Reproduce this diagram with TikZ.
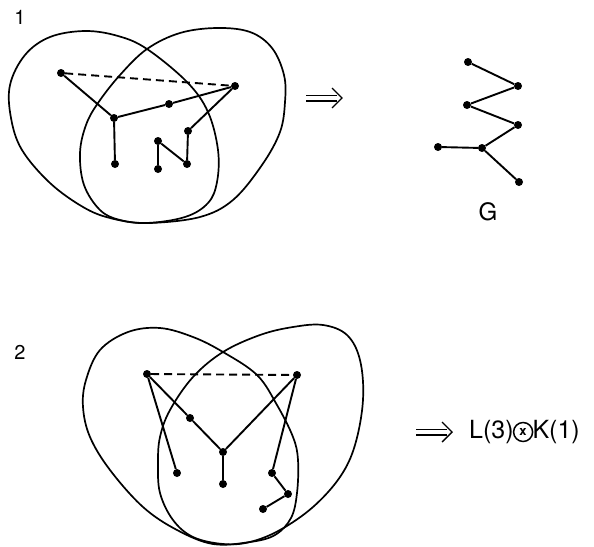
\documentclass[tikz,border=0pt]{standalone}
\usepackage{fontspec}
\newfontfamily\hel{TeX Gyre Heros}
\begin{document}
\begin{tikzpicture}[x=1pt,y=-1pt,
  dot/.style={circle,fill,inner sep=0pt,minimum size=8pt},
  egg/.style={line width=1.7pt},
  edge/.style={line width=1.9pt},
  dashedge/.style={line width=1.9pt,dash pattern=on 8pt off 5pt},
  lbl/.style={inner sep=0pt,font=\hel\fontsize{20}{22}\selectfont},
  implies/.style={line width=1.4pt}]
\useasboundingbox (0,0) rectangle (594,546);

% ---------- figure 1 ----------
\node[lbl] (n1) at (20,17) {1};
\draw[egg] plot[smooth cycle,tension=0.6] coordinates {
 (145,223) (185,217) (208,203) (217,182) (218,150) (208,112) (187,82)
 (147,49) (118,36) (85,31) (50,37) (25,55) (10,85) (11,118) (22,150)
 (50,183) (83,207) (110,218)};
\draw[egg] plot[smooth cycle,tension=0.6] coordinates {
 (150,223) (120,220) (100,210) (84,185) (80,153) (86,125) (98,103)
 (120,75) (147,49) (180,33) (217,28) (250,32) (272,48) (284,75)
 (285,102) (280,132) (262,165) (233,200) (200,217)};

\node[dot] (a) at (61,73) {};
\node[dot] (b) at (235,86) {};
\node[dot] (c) at (114,118) {};
\node[dot] (d) at (169,104) {};
\node[dot] (e) at (115,164) {};
\node[dot] (f) at (188,131) {};
\node[dot] (g) at (187,164) {};
\node[dot] (h) at (158,141) {};
\node[dot] (i) at (158,169) {};
\draw[dashedge] (a) -- (b);
\draw[edge] (a) -- (c) -- (d) -- (b) -- (f) -- (g) -- (h) -- (i);
\draw[edge] (c) -- (e);

% arrow 1
\coordinate (s1) at (306,98);
\coordinate (t1) at (342,98);
\draw[implies] ([yshift=-2.8pt]s1) -- ([xshift=-5pt,yshift=-2.8pt]t1);
\draw[implies] ([yshift=2.8pt]s1) -- ([xshift=-5pt,yshift=2.8pt]t1);
\draw[implies] ([xshift=-10pt,yshift=-10pt]t1) -- (t1) -- ([xshift=-10pt,yshift=10pt]t1);

% graph G
\node[dot] (p1) at (468,62) {};
\node[dot] (p2) at (518,86) {};
\node[dot] (p3) at (467,105) {};
\node[dot] (p4) at (518,125) {};
\node[dot] (p5) at (482,148) {};
\node[dot] (p6) at (438,147) {};
\node[dot] (p7) at (519,182) {};
\draw[edge] (p1) -- (p2) -- (p3) -- (p4) -- (p5) -- (p6);
\draw[edge] (p5) -- (p7);
\node[lbl,font=\hel\fontsize{24}{26}\selectfont] (gl) at (488,212) {G};

% ---------- figure 2 ----------
\node[lbl] (n2) at (20,352) {2};
\draw[egg] plot[smooth cycle,tension=0.6] coordinates {
 (213,544) (250,542) (275,535) (291,518) (297,493) (298,460) (293,437)
 (277,405) (257,375) (223,352) (193,337) (160,328) (128,332) (100,350)
 (86,380) (83,407) (90,437) (110,470) (143,507) (177,530)};
\draw[egg] plot[smooth cycle,tension=0.6] coordinates {
 (223,544) (193,537) (173,520) (160,493) (158,463) (160,437) (170,410)
 (193,377) (223,352) (260,335) (293,327) (323,325) (347,335) (360,360)
 (363,400) (355,445) (340,477) (313,507) (280,530) (250,542)};

\node[dot] (A) at (147,374) {};
\node[dot] (B) at (297,375) {};
\node[dot] (C) at (190,418) {};
\node[dot] (D) at (223,452) {};
\node[dot] (E) at (177,473) {};
\node[dot] (F) at (223,484) {};
\node[dot] (G) at (272,473) {};
\node[dot] (H) at (288,494) {};
\node[dot] (I) at (263,509) {};
\draw[dashedge] (A) -- (B);
\draw[edge] (A) -- (E);
\draw[edge] (A) -- (C) -- (D) -- (B) -- (G) -- (H) -- (I);
\draw[edge] (D) -- (F);

% arrow 2
\coordinate (s2) at (416,432);
\coordinate (t2) at (452,432);
\draw[implies] ([yshift=-2.8pt]s2) -- ([xshift=-5pt,yshift=-2.8pt]t2);
\draw[implies] ([yshift=2.8pt]s2) -- ([xshift=-5pt,yshift=2.8pt]t2);
\draw[implies] ([xshift=-10pt,yshift=-10pt]t2) -- (t2) -- ([xshift=-10pt,yshift=10pt]t2);

\node[lbl,anchor=west,font=\hel\fontsize{25}{27}\selectfont] (L3) at (469,432) {L(3)};
\node[circle,draw,line width=1.5pt,inner sep=0pt,minimum size=19pt,anchor=west,font=\hel\bfseries\fontsize{13}{14}\selectfont] (ox) at ([xshift=-1pt]L3.east) {x};
\node[lbl,anchor=west,font=\hel\fontsize{25}{27}\selectfont] (K1) at ([xshift=-1pt]ox.east) {K(1)};
\end{tikzpicture}
\end{document}
